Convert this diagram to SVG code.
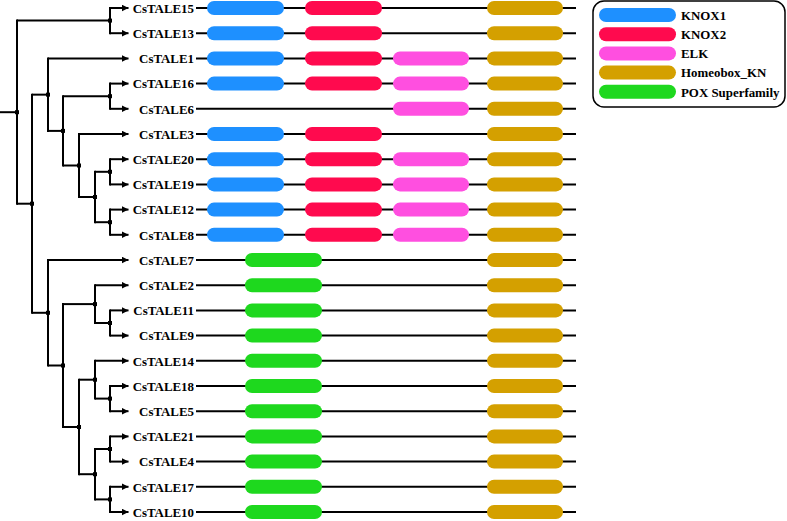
<svg xmlns="http://www.w3.org/2000/svg" width="787" height="521" viewBox="0 0 787 521">
<style>
.t{stroke:#000;stroke-width:2;fill:none}
.v{stroke:#000;stroke-width:2;fill:none;stroke-linecap:square}
.a{stroke:#000;stroke-width:2;fill:none;marker-end:url(#ah)}
.bb{stroke:#000;stroke-width:2}
.lbl{font-family:"Liberation Serif","Times New Roman",serif;font-weight:bold;font-size:12.9px;fill:#000}
.kx1{fill:#1E90FF}
.kx2{fill:#FF0A4E}
.elk{fill:#FF4FE0}
.hb{fill:#D4A000}
.pox{fill:#1ED81E}
.dot{fill:#000}
</style>
<defs>
<marker id="ah" markerUnits="userSpaceOnUse" markerWidth="8" markerHeight="8" refX="7" refY="3.5" orient="auto"><path d="M0,0 L7,3.5 L0,7 z" fill="#000"/></marker>
</defs>
<g id="connectors">
<path class="t" d="M0,112.2 H17"/>
<path class="v" d="M17,20.6 V203.7"/>
<path class="t" d="M17,20.6 H110"/>
<path class="t" d="M17,203.7 H32"/>
<path class="v" d="M110,8 V33.2"/>
<path class="a" d="M110,8 H128.5"/>
<path class="a" d="M110,33.2 H128.5"/>
<path class="v" d="M32,94.65 V312.8"/>
<path class="t" d="M32,94.65 H48"/>
<path class="t" d="M32,312.8 H48"/>
<path class="v" d="M48,58.4 V130.9"/>
<path class="a" d="M48,58.4 H128.5"/>
<path class="t" d="M48,130.9 H63"/>
<path class="v" d="M63,96.2 V165.5"/>
<path class="t" d="M63,96.2 H110"/>
<path class="t" d="M63,165.5 H79"/>
<path class="v" d="M110,83.6 V108.8"/>
<path class="a" d="M110,83.6 H128.5"/>
<path class="a" d="M110,108.8 H128.5"/>
<path class="v" d="M79,134 V197"/>
<path class="a" d="M79,134 H128.5"/>
<path class="t" d="M79,197 H95"/>
<path class="v" d="M95,171.8 V222.2"/>
<path class="t" d="M95,171.8 H110"/>
<path class="t" d="M95,222.2 H110"/>
<path class="v" d="M110,159.2 V184.4"/>
<path class="a" d="M110,159.2 H128.5"/>
<path class="a" d="M110,184.4 H128.5"/>
<path class="v" d="M110,209.6 V234.8"/>
<path class="a" d="M110,209.6 H128.5"/>
<path class="a" d="M110,234.8 H128.5"/>
<path class="v" d="M48,260 V365.5"/>
<path class="a" d="M48,260 H128.5"/>
<path class="t" d="M48,365.5 H63"/>
<path class="v" d="M63,304.1 V427"/>
<path class="t" d="M63,304.1 H95"/>
<path class="t" d="M63,427 H79"/>
<path class="v" d="M95,285.2 V323"/>
<path class="a" d="M95,285.2 H128.5"/>
<path class="t" d="M95,323 H110"/>
<path class="v" d="M110,310.4 V335.6"/>
<path class="a" d="M110,310.4 H128.5"/>
<path class="a" d="M110,335.6 H128.5"/>
<path class="v" d="M79,379.7 V474.2"/>
<path class="t" d="M79,379.7 H95"/>
<path class="t" d="M79,474.2 H95"/>
<path class="v" d="M95,360.8 V398.6"/>
<path class="a" d="M95,360.8 H128.5"/>
<path class="t" d="M95,398.6 H110"/>
<path class="v" d="M110,386 V411.2"/>
<path class="a" d="M110,386 H128.5"/>
<path class="a" d="M110,411.2 H128.5"/>
<path class="v" d="M95,449 V499.4"/>
<path class="t" d="M95,449 H110"/>
<path class="t" d="M95,499.4 H110"/>
<path class="v" d="M110,436.4 V461.6"/>
<path class="a" d="M110,436.4 H128.5"/>
<path class="a" d="M110,461.6 H128.5"/>
<path class="v" d="M110,486.8 V512"/>
<path class="a" d="M110,486.8 H128.5"/>
<path class="a" d="M110,512 H128.5"/>
<g id="internal-nodes">
<rect class="dot" x="15" y="110.2" width="4" height="4"/>
<rect class="dot" x="108" y="18.6" width="4" height="4"/>
<rect class="dot" x="30" y="201.7" width="4" height="4"/>
<rect class="dot" x="46" y="92.65" width="4" height="4"/>
<rect class="dot" x="61" y="128.9" width="4" height="4"/>
<rect class="dot" x="108" y="94.2" width="4" height="4"/>
<rect class="dot" x="77" y="163.5" width="4" height="4"/>
<rect class="dot" x="93" y="195" width="4" height="4"/>
<rect class="dot" x="108" y="169.8" width="4" height="4"/>
<rect class="dot" x="108" y="220.2" width="4" height="4"/>
<rect class="dot" x="46" y="310.8" width="4" height="4"/>
<rect class="dot" x="61" y="363.5" width="4" height="4"/>
<rect class="dot" x="93" y="302.1" width="4" height="4"/>
<rect class="dot" x="108" y="321" width="4" height="4"/>
<rect class="dot" x="77" y="425" width="4" height="4"/>
<rect class="dot" x="93" y="377.7" width="4" height="4"/>
<rect class="dot" x="108" y="396.6" width="4" height="4"/>
<rect class="dot" x="93" y="472.2" width="4" height="4"/>
<rect class="dot" x="108" y="447" width="4" height="4"/>
<rect class="dot" x="108" y="497.4" width="4" height="4"/>
</g>
</g>
<g id="CsTALE15"><text class="lbl" x="194" y="12.8" text-anchor="end">CsTALE15</text><path class="bb" d="M196,8 H576"/><rect class="kx1" x="207" y="1" width="77" height="14" rx="7"/><rect class="kx2" x="305" y="1" width="77" height="14" rx="7"/><rect class="hb" x="487" y="1" width="76" height="14" rx="7"/></g>
<g id="CsTALE13"><text class="lbl" x="194" y="38" text-anchor="end">CsTALE13</text><path class="bb" d="M196,33.2 H576"/><rect class="kx1" x="207" y="26.2" width="77" height="14" rx="7"/><rect class="kx2" x="305" y="26.2" width="77" height="14" rx="7"/><rect class="hb" x="487" y="26.2" width="76" height="14" rx="7"/></g>
<g id="CsTALE1"><text class="lbl" x="194" y="63.2" text-anchor="end">CsTALE1</text><path class="bb" d="M196,58.4 H576"/><rect class="kx1" x="207" y="51.4" width="77" height="14" rx="7"/><rect class="kx2" x="305" y="51.4" width="77" height="14" rx="7"/><rect class="elk" x="393" y="51.4" width="76" height="14" rx="7"/><rect class="hb" x="487" y="51.4" width="76" height="14" rx="7"/></g>
<g id="CsTALE16"><text class="lbl" x="194" y="88.4" text-anchor="end">CsTALE16</text><path class="bb" d="M196,83.6 H576"/><rect class="kx1" x="207" y="76.6" width="77" height="14" rx="7"/><rect class="kx2" x="305" y="76.6" width="77" height="14" rx="7"/><rect class="elk" x="393" y="76.6" width="76" height="14" rx="7"/><rect class="hb" x="487" y="76.6" width="76" height="14" rx="7"/></g>
<g id="CsTALE6"><text class="lbl" x="194" y="113.6" text-anchor="end">CsTALE6</text><path class="bb" d="M196,108.8 H576"/><rect class="elk" x="393" y="101.8" width="76" height="14" rx="7"/><rect class="hb" x="487" y="101.8" width="76" height="14" rx="7"/></g>
<g id="CsTALE3"><text class="lbl" x="194" y="138.8" text-anchor="end">CsTALE3</text><path class="bb" d="M196,134 H576"/><rect class="kx1" x="207" y="127" width="77" height="14" rx="7"/><rect class="kx2" x="305" y="127" width="77" height="14" rx="7"/><rect class="hb" x="487" y="127" width="76" height="14" rx="7"/></g>
<g id="CsTALE20"><text class="lbl" x="194" y="164" text-anchor="end">CsTALE20</text><path class="bb" d="M196,159.2 H576"/><rect class="kx1" x="207" y="152.2" width="77" height="14" rx="7"/><rect class="kx2" x="305" y="152.2" width="77" height="14" rx="7"/><rect class="elk" x="393" y="152.2" width="76" height="14" rx="7"/><rect class="hb" x="487" y="152.2" width="76" height="14" rx="7"/></g>
<g id="CsTALE19"><text class="lbl" x="194" y="189.2" text-anchor="end">CsTALE19</text><path class="bb" d="M196,184.4 H576"/><rect class="kx1" x="207" y="177.4" width="77" height="14" rx="7"/><rect class="kx2" x="305" y="177.4" width="77" height="14" rx="7"/><rect class="elk" x="393" y="177.4" width="76" height="14" rx="7"/><rect class="hb" x="487" y="177.4" width="76" height="14" rx="7"/></g>
<g id="CsTALE12"><text class="lbl" x="194" y="214.4" text-anchor="end">CsTALE12</text><path class="bb" d="M196,209.6 H576"/><rect class="kx1" x="207" y="202.6" width="77" height="14" rx="7"/><rect class="kx2" x="305" y="202.6" width="77" height="14" rx="7"/><rect class="elk" x="393" y="202.6" width="76" height="14" rx="7"/><rect class="hb" x="487" y="202.6" width="76" height="14" rx="7"/></g>
<g id="CsTALE8"><text class="lbl" x="194" y="239.6" text-anchor="end">CsTALE8</text><path class="bb" d="M196,234.8 H576"/><rect class="kx1" x="207" y="227.8" width="77" height="14" rx="7"/><rect class="kx2" x="305" y="227.8" width="77" height="14" rx="7"/><rect class="elk" x="393" y="227.8" width="76" height="14" rx="7"/><rect class="hb" x="487" y="227.8" width="76" height="14" rx="7"/></g>
<g id="CsTALE7"><text class="lbl" x="194" y="264.8" text-anchor="end">CsTALE7</text><path class="bb" d="M196,260 H576"/><rect class="pox" x="245" y="253" width="77" height="14" rx="7"/><rect class="hb" x="487" y="253" width="76" height="14" rx="7"/></g>
<g id="CsTALE2"><text class="lbl" x="194" y="290" text-anchor="end">CsTALE2</text><path class="bb" d="M196,285.2 H576"/><rect class="pox" x="245" y="278.2" width="77" height="14" rx="7"/><rect class="hb" x="487" y="278.2" width="76" height="14" rx="7"/></g>
<g id="CsTALE11"><text class="lbl" x="194" y="315.2" text-anchor="end">CsTALE11</text><path class="bb" d="M196,310.4 H576"/><rect class="pox" x="245" y="303.4" width="77" height="14" rx="7"/><rect class="hb" x="487" y="303.4" width="76" height="14" rx="7"/></g>
<g id="CsTALE9"><text class="lbl" x="194" y="340.4" text-anchor="end">CsTALE9</text><path class="bb" d="M196,335.6 H576"/><rect class="pox" x="245" y="328.6" width="77" height="14" rx="7"/><rect class="hb" x="487" y="328.6" width="76" height="14" rx="7"/></g>
<g id="CsTALE14"><text class="lbl" x="194" y="365.6" text-anchor="end">CsTALE14</text><path class="bb" d="M196,360.8 H576"/><rect class="pox" x="245" y="353.8" width="77" height="14" rx="7"/><rect class="hb" x="487" y="353.8" width="76" height="14" rx="7"/></g>
<g id="CsTALE18"><text class="lbl" x="194" y="390.8" text-anchor="end">CsTALE18</text><path class="bb" d="M196,386 H576"/><rect class="pox" x="245" y="379" width="77" height="14" rx="7"/><rect class="hb" x="487" y="379" width="76" height="14" rx="7"/></g>
<g id="CsTALE5"><text class="lbl" x="194" y="416" text-anchor="end">CsTALE5</text><path class="bb" d="M196,411.2 H576"/><rect class="pox" x="245" y="404.2" width="77" height="14" rx="7"/><rect class="hb" x="487" y="404.2" width="76" height="14" rx="7"/></g>
<g id="CsTALE21"><text class="lbl" x="194" y="441.2" text-anchor="end">CsTALE21</text><path class="bb" d="M196,436.4 H576"/><rect class="pox" x="245" y="429.4" width="77" height="14" rx="7"/><rect class="hb" x="487" y="429.4" width="76" height="14" rx="7"/></g>
<g id="CsTALE4"><text class="lbl" x="194" y="466.4" text-anchor="end">CsTALE4</text><path class="bb" d="M196,461.6 H576"/><rect class="pox" x="245" y="454.6" width="77" height="14" rx="7"/><rect class="hb" x="487" y="454.6" width="76" height="14" rx="7"/></g>
<g id="CsTALE17"><text class="lbl" x="194" y="491.6" text-anchor="end">CsTALE17</text><path class="bb" d="M196,486.8 H576"/><rect class="pox" x="245" y="479.8" width="77" height="14" rx="7"/><rect class="hb" x="487" y="479.8" width="76" height="14" rx="7"/></g>
<g id="CsTALE10"><text class="lbl" x="194" y="516.8" text-anchor="end">CsTALE10</text><path class="bb" d="M196,512 H576"/><rect class="pox" x="245" y="505" width="77" height="14" rx="7"/><rect class="hb" x="487" y="505" width="76" height="14" rx="7"/></g>
<g id="legend">
<rect x="593" y="1" width="192" height="106" rx="11" fill="#fff" stroke="#000" stroke-width="1.5"/>
<rect class="kx1" x="599" y="8" width="77" height="14" rx="7"/><text class="lbl" x="681" y="19.7">KNOX1</text>
<rect class="kx2" x="599" y="27.2" width="77" height="14" rx="7"/><text class="lbl" x="681" y="38.9">KNOX2</text>
<rect class="elk" x="599" y="46.4" width="77" height="14" rx="7"/><text class="lbl" x="681" y="58.1">ELK</text>
<rect class="hb" x="599" y="65.6" width="77" height="14" rx="7"/><text class="lbl" x="681" y="77.3">Homeobox_KN</text>
<rect class="pox" x="599" y="84.8" width="77" height="14" rx="7"/><text class="lbl" x="681" y="96.5">POX Superfamily</text>
</g>
</svg>
